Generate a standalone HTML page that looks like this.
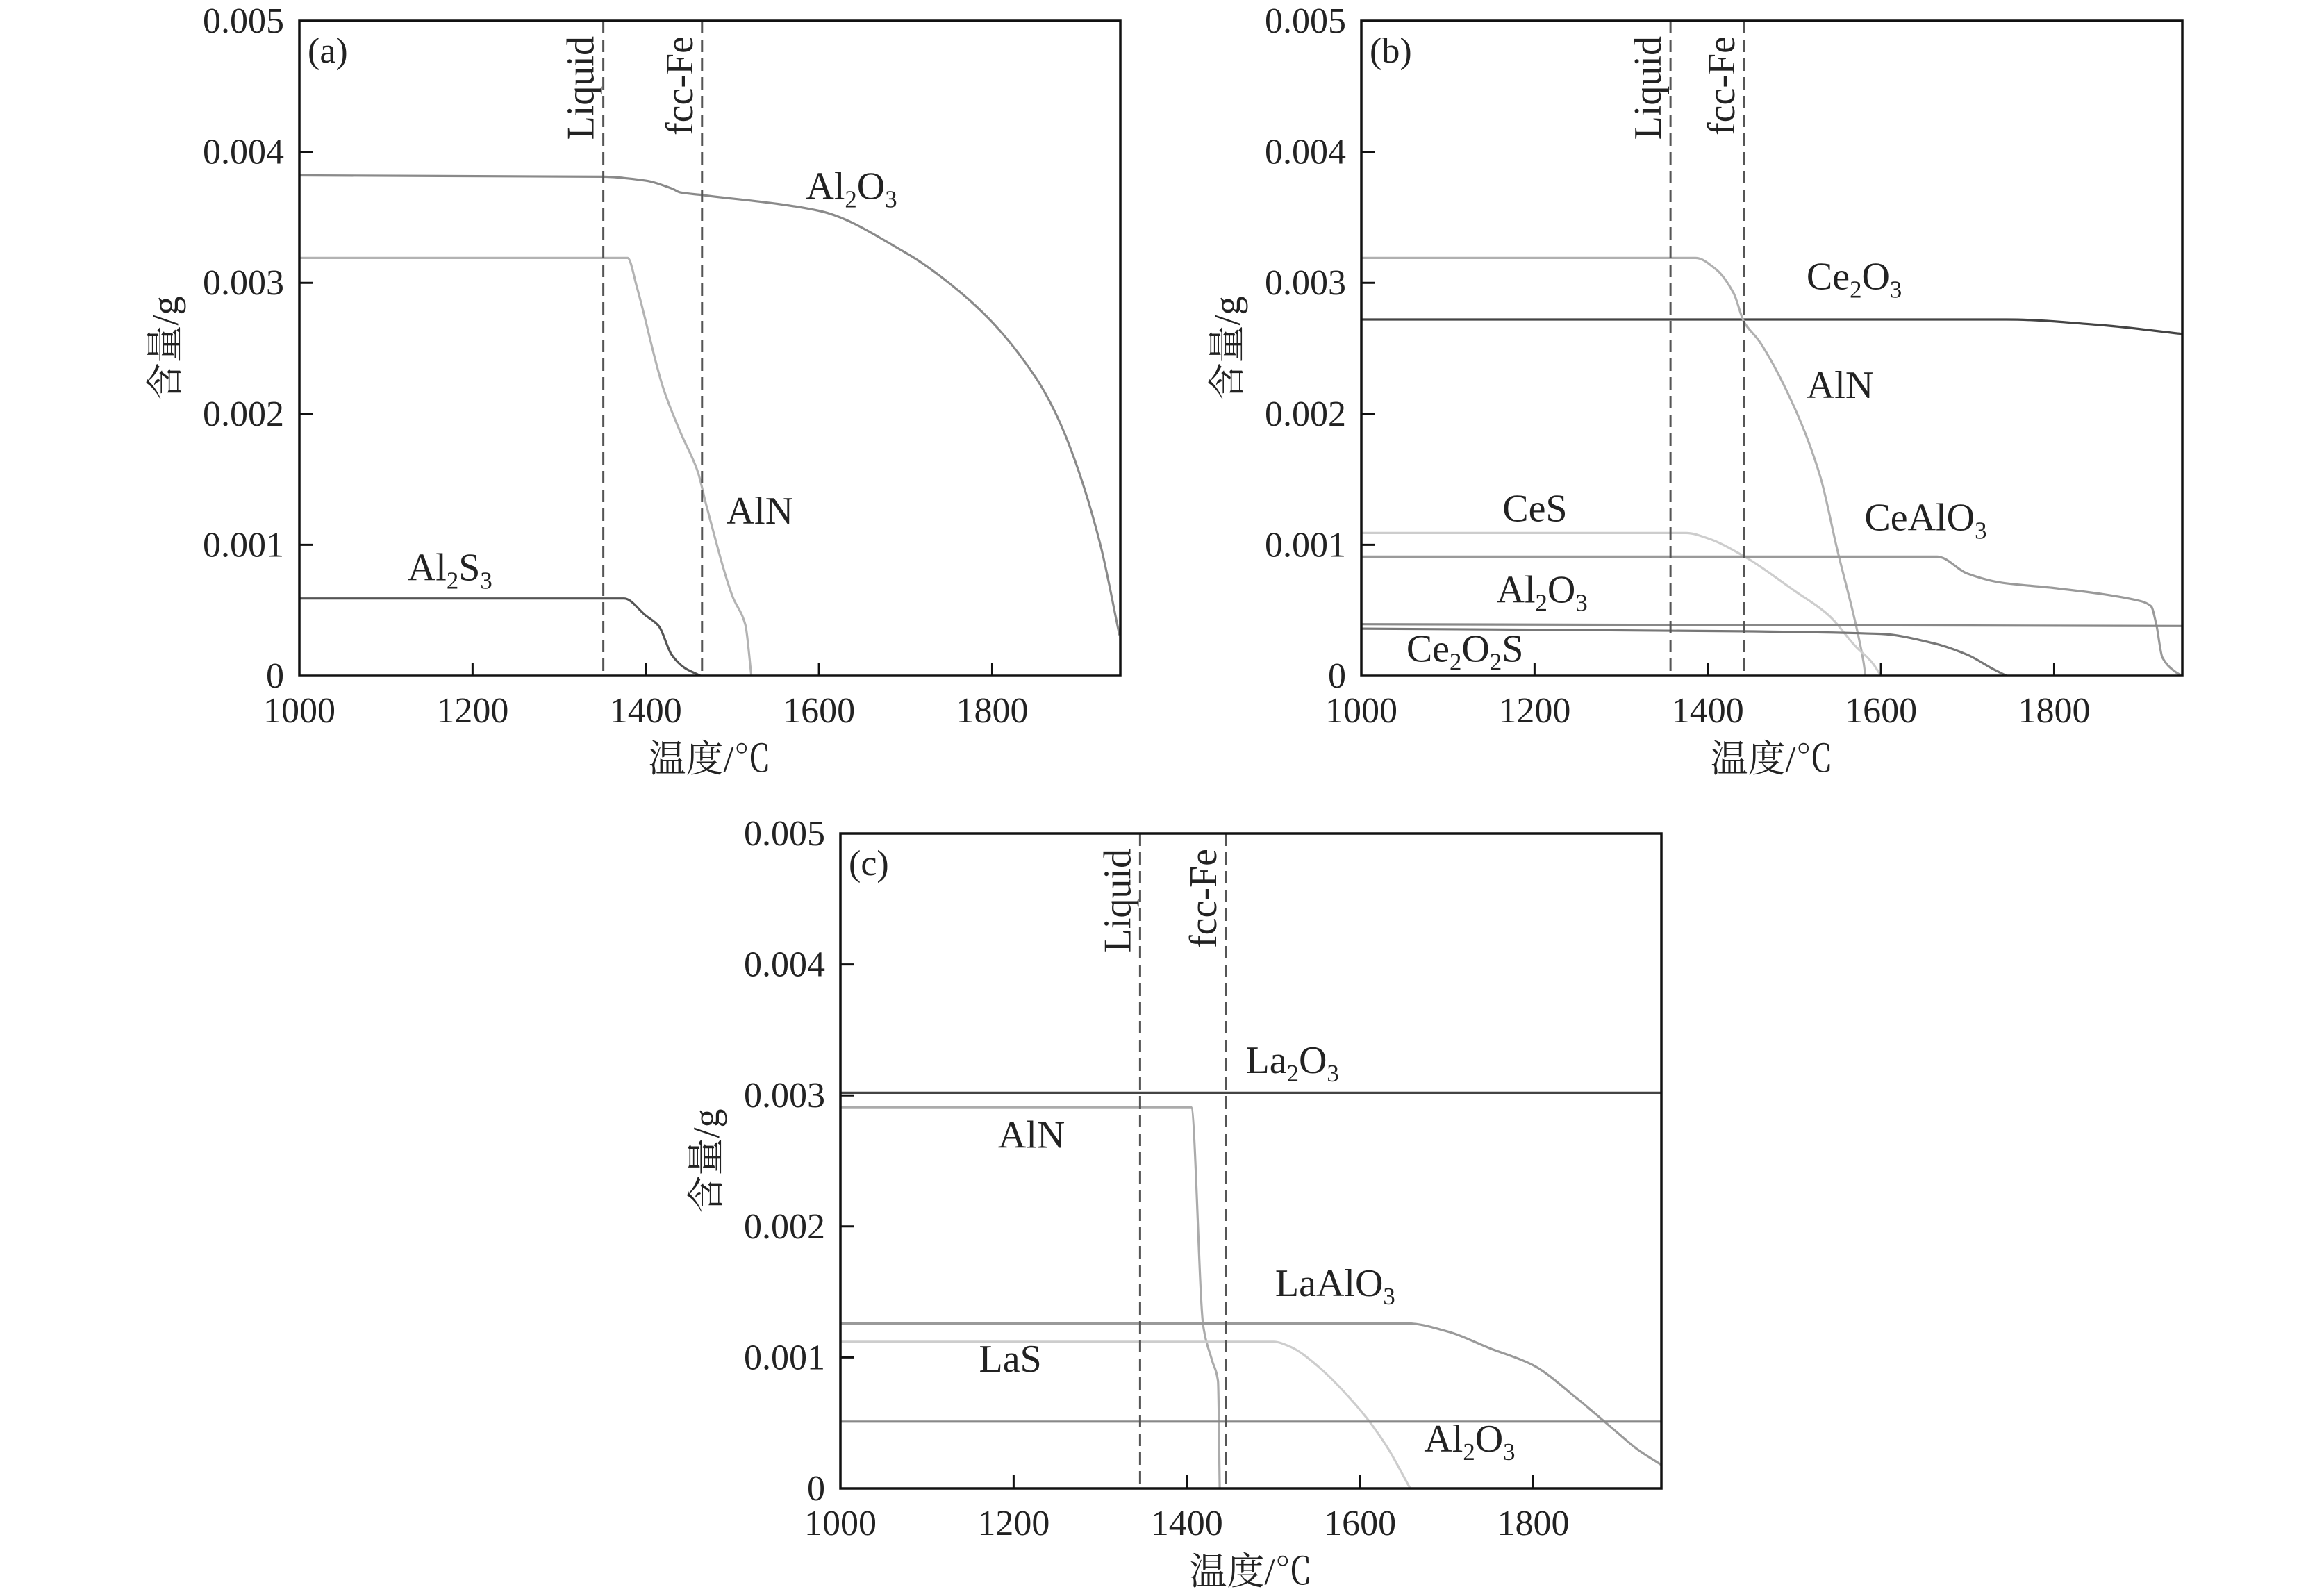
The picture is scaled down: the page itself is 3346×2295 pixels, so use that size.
<!DOCTYPE html>
<html>
<head>
<meta charset="utf-8">
<style>
html,body{margin:0;padding:0;background:#fff;}
svg{display:block;}
text{font-family:"Liberation Serif","Noto Serif CJK SC",serif;fill:#222;}
</style>
</head>
<body>
<svg id="chart" width="3346" height="2295" viewBox="0 0 3346 2295" xmlns="http://www.w3.org/2000/svg"></svg>
<script>
// shared axis ticks
const xTicks = [1000, 1200, 1400, 1600, 1800];
const yTicks = [0, 0.001, 0.002, 0.003, 0.004, 0.005];
const yTickLabels = ["0", "0.001", "0.002", "0.003", "0.004", "0.005"];

// Panel (a)
const aLiquid = 1351, aFcc = 1465;
const aAl2O3T = [1000, 1351, 1400, 1430, 1440, 1465, 1600, 1700, 1750, 1800, 1850, 1875, 1900, 1925, 1947];
const aAl2O3V = [0.00382, 0.00381, 0.00378, 0.00372, 0.00369, 0.00367, 0.00355, 0.00323, 0.00300, 0.00270, 0.00228, 0.00198, 0.00156, 0.00100, 0.00031];
const aAlNT = [1000, 1379, 1390, 1420, 1440, 1460, 1470, 1500, 1515, 1522];
const aAlNV = [0.00319, 0.00319, 0.00296, 0.00220, 0.00186, 0.00156, 0.00130, 0.00061, 0.00039, 0];
const aAl2S3T = [1000, 1375, 1400, 1415, 1430, 1445, 1460, 1463];
const aAl2S3V = [0.00059, 0.00059, 0.00046, 0.00038, 0.00016, 0.00006, 0.00001, 0];

// Panel (b)
const bLiquid = 1357, bFcc = 1442;
const bAlNT = [1000, 1386, 1410, 1430, 1442, 1460, 1500, 1530, 1550, 1570, 1580, 1582];
const bAlNV = [0.00319, 0.00319, 0.00310, 0.00292, 0.00270, 0.00255, 0.00205, 0.00152, 0.00095, 0.00042, 0.00010, 0];
const bCe2O3T = [1000, 1745, 1850, 1948];
const bCe2O3V = [0.00272, 0.00272, 0.00268, 0.00261];
const bCeST = [1000, 1375, 1400, 1440, 1500, 1540, 1570, 1590, 1600];
const bCeSV = [0.00109, 0.00109, 0.00105, 0.00092, 0.00065, 0.00046, 0.00023, 0.00010, 0];
const bCeAlO3T = [1000, 1665, 1700, 1740, 1800, 1900, 1912, 1918, 1925, 1940, 1948];
const bCeAlO3V = [0.00091, 0.00091, 0.00078, 0.00071, 0.00067, 0.00057, 0.00053, 0.00039, 0.00014, 0.00003, 0];
const bCe2O2ST = [1000, 1948];
const bCe2O2SV = [0.000394, 0.00038];
const bAl2O3T = [1000, 1440, 1600, 1660, 1700, 1730, 1745];
const bAl2O3V = [0.00036, 0.00034, 0.00032, 0.00025, 0.00016, 0.00005, 0];

// Panel (c)
const cLiquid = 1346, cFcc = 1445;
const cLa2O3T = [1000, 1948];
const cLa2O3V = [0.00302, 0.00302];
const cAlNT = [1000, 1405, 1419, 1429, 1436, 1438];
const cAlNV = [0.00291, 0.00291, 0.00124, 0.00098, 0.00082, 0];
const cLaAlO3T = [1000, 1655, 1700, 1750, 1800, 1850, 1900, 1920, 1948];
const cLaAlO3V = [0.00126, 0.00126, 0.00120, 0.00107, 0.00094, 0.00069, 0.00041, 0.00030, 0.00018];
const cLaST = [1000, 1500, 1520, 1550, 1600, 1630, 1658];
const cLaSV = [0.00112, 0.00112, 0.00108, 0.00094, 0.00060, 0.00033, 0];
const cAl2O3T = [1000, 1948];
const cAl2O3V = [0.00051, 0.00051];

const NS = "http://www.w3.org/2000/svg";
const svg = document.getElementById("chart");
const W = 1182, H = 943, XMIN = 1000, XMAX = 1948, YMAX = 0.005;

function mk(tag, attrs, parent, txt) {
  const e = document.createElementNS(NS, tag);
  for (const k in attrs) e.setAttribute(k, attrs[k]);
  if (txt !== undefined) e.textContent = txt;
  parent.appendChild(e);
  return e;
}
// monotone cubic path through pixel points
function monoPath(xs, ys) {
  const n = xs.length;
  if (n < 3) return "M" + xs.map((x, i) => x.toFixed(1) + "," + ys[i].toFixed(1)).join(" L");
  const d = [], m = new Array(n);
  for (let i = 0; i < n - 1; i++) d.push((ys[i + 1] - ys[i]) / (xs[i + 1] - xs[i]));
  m[0] = d[0]; m[n - 1] = d[n - 2];
  for (let i = 1; i < n - 1; i++) m[i] = (d[i - 1] * d[i] <= 0) ? 0 : 2 / (1 / d[i - 1] + 1 / d[i]);
  let p = "M" + xs[0].toFixed(1) + "," + ys[0].toFixed(1);
  for (let i = 0; i < n - 1; i++) {
    const h = (xs[i + 1] - xs[i]) / 3;
    p += " C" + (xs[i] + h).toFixed(1) + "," + (ys[i] + m[i] * h).toFixed(1) + " " +
      (xs[i + 1] - h).toFixed(1) + "," + (ys[i + 1] - m[i + 1] * h).toFixed(1) + " " +
      xs[i + 1].toFixed(1) + "," + ys[i + 1].toFixed(1);
  }
  return p;
}
function formula(g, x, y, parts, size) {
  const t = mk("text", {x: x, y: y, "font-size": size}, g);
  let sub = false;
  for (const p of parts) {
    const s = mk("tspan", {}, t, p[0]);
    if (p[1]) { s.setAttribute("font-size", size * 0.62); if (!sub) s.setAttribute("dy", 12); sub = true; }
    else { if (sub) s.setAttribute("dy", -12); sub = false; }
  }
  return t;
}

function panel(name, L, T, letter, liq, fcc, series, labels) {
  const g = mk("g", {}, svg);
  
  
  const sx = v => L + (v - XMIN) / (XMAX - XMIN) * W;
  const sy = v => T + H - v / YMAX * H;

  for (const s of series) {
    const pth = mk("path", {d: monoPath(s.t.map(sx), s.v.map(sy)), fill: "none", stroke: s.c, "stroke-width": 3.2, "stroke-linejoin": "round"}, g);
    
    
  }
  for (const d of [[liq, "Liquid"], [fcc, "fcc-Fe"]]) {
    const ln = mk("line", {x1: sx(d[0]), x2: sx(d[0]), y1: T, y2: T + H, stroke: "#555", "stroke-width": 3, "stroke-dasharray": "18,9"}, g);
    
    
    const tx = sx(d[0]) - 14, ty = T + 22;
    const t = mk("text", {x: tx, y: ty, "font-size": 56, "text-anchor": "end", transform: "rotate(-90 " + tx + " " + ty + ")"}, g, d[1]);
    
    
  }
  const fr = mk("rect", {x: L, y: T, width: W, height: H, fill: "none", stroke: "#111", "stroke-width": 3.5}, g);
  
  
  xTicks.forEach(v => {
    mk("line", {x1: sx(v), x2: sx(v), y1: T + H, y2: T + H - 19, stroke: "#111", "stroke-width": 3}, g);
    const t = mk("text", {x: sx(v), y: T + H + 67, "font-size": 52, "text-anchor": "middle"}, g, String(v));
    
    
  });
  yTicks.forEach((v, i) => {
    mk("line", {x1: L, x2: L + 19, y1: sy(v), y2: sy(v), stroke: "#111", "stroke-width": 3}, g);
    const t = mk("text", {x: L - 22, y: sy(v) + 17, "font-size": 52, "text-anchor": "end"}, g, yTickLabels[i]);
    
    
  });
  const xt = mk("text", {x: L + W / 2, y: T + H + 138, "font-size": 54, "text-anchor": "middle"}, g, "温度/℃");
  
  
  const yx = L - 175, yy = T + H / 2;
  const yt = mk("text", {x: yx, y: yy, "font-size": 54, "text-anchor": "middle", transform: "rotate(-90 " + yx + " " + yy + ")"}, g, "含量/g");
  
  
  const pl = mk("text", {x: L + 12, y: T + 60, "font-size": 52}, g, letter);
  
  
  for (const lb of labels) {
    const t = formula(g, sx(lb.x), sy(lb.y), lb.p, 56);
    
    
  }
}

panel("a", 431, 30, "(a)", aLiquid, aFcc, [
  {n: "al2o3", t: aAl2O3T, v: aAl2O3V, c: "#8a8a8a"},
  {n: "aln", t: aAlNT, v: aAlNV, c: "#b3b3b3"},
  {n: "al2s3", t: aAl2S3T, v: aAl2S3V, c: "#555"}
], [
  {x: 1585, y: 0.00364, p: [["Al"], ["2", 1], ["O"], ["3", 1]]},
  {x: 1493, y: 0.00116, p: [["AlN"]]},
  {x: 1125, y: 0.00073, p: [["Al"], ["2", 1], ["S"], ["3", 1]]}
]);

panel("b", 1960, 30, "(b)", bLiquid, bFcc, [
  {n: "ce2o3", t: bCe2O3T, v: bCe2O3V, c: "#444"},
  {n: "aln", t: bAlNT, v: bAlNV, c: "#b0b0b0"},
  {n: "ces", t: bCeST, v: bCeSV, c: "#cdcdcd"},
  {n: "cealo3", t: bCeAlO3T, v: bCeAlO3V, c: "#9a9a9a"},
  {n: "ce2o2s", t: bCe2O2ST, v: bCe2O2SV, c: "#888"},
  {n: "al2o3", t: bAl2O3T, v: bAl2O3V, c: "#777"}
], [
  {x: 1514, y: 0.00295, p: [["Ce"], ["2", 1], ["O"], ["3", 1]]},
  {x: 1514, y: 0.00212, p: [["AlN"]]},
  {x: 1163, y: 0.00118, p: [["CeS"]]},
  {x: 1581, y: 0.00111, p: [["CeAlO"], ["3", 1]]},
  {x: 1156, y: 0.00056, p: [["Al"], ["2", 1], ["O"], ["3", 1]]},
  {x: 1052, y: 0.00011, p: [["Ce"], ["2", 1], ["O"], ["2", 1], ["S"]]}
]);

panel("c", 1210, 1200, "(c)", cLiquid, cFcc, [
  {n: "la2o3", t: cLa2O3T, v: cLa2O3V, c: "#444"},
  {n: "aln", t: cAlNT, v: cAlNV, c: "#ababab"},
  {n: "laalo3", t: cLaAlO3T, v: cLaAlO3V, c: "#9a9a9a"},
  {n: "las", t: cLaST, v: cLaSV, c: "#cdcdcd"},
  {n: "al2o3", t: cAl2O3T, v: cAl2O3V, c: "#888"}
], [
  {x: 1468, y: 0.00317, p: [["La"], ["2", 1], ["O"], ["3", 1]]},
  {x: 1182, y: 0.00260, p: [["AlN"]]},
  {x: 1502, y: 0.00147, p: [["LaAlO"], ["3", 1]]},
  {x: 1160, y: 0.00089, p: [["LaS"]]},
  {x: 1674, y: 0.00028, p: [["Al"], ["2", 1], ["O"], ["3", 1]]}
]);
</script>
</body>
</html>
